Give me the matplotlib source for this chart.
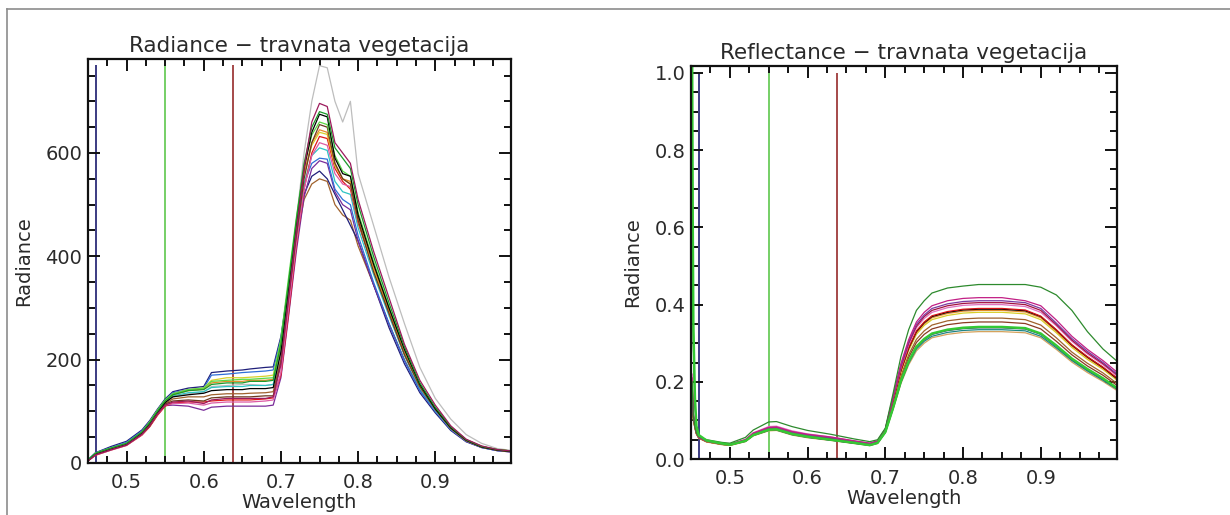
import matplotlib
matplotlib.use("Agg")
import matplotlib.pyplot as plt
from matplotlib.ticker import MultipleLocator, FixedLocator, FormatStrFormatter
from matplotlib.lines import Line2D

# valne duljine (um)
W_RAD = [0.45, 0.46, 0.47, 0.48, 0.50, 0.52, 0.53, 0.54, 0.55, 0.56, 0.58, 0.60,
         0.61, 0.63, 0.65, 0.66, 0.68, 0.69, 0.70, 0.71, 0.72, 0.73, 0.74, 0.75,
         0.76, 0.77, 0.78, 0.79, 0.80, 0.82, 0.84, 0.86, 0.88, 0.90, 0.92, 0.94,
         0.96, 0.98, 1.00]

W_REF = [0.4515, 0.4522, 0.453, 0.455, 0.457, 0.46, 0.47, 0.49, 0.50, 0.52, 0.53,
         0.55, 0.56, 0.58, 0.60, 0.63, 0.66, 0.68, 0.69, 0.70, 0.71, 0.72, 0.73,
         0.74, 0.75, 0.76, 0.78, 0.80, 0.82, 0.85, 0.88, 0.90, 0.92, 0.94, 0.96,
         0.98, 1.00]

# radiance spektri
rad_gray = [5, 17, 22, 28, 38, 60, 78, 100, 118, 128, 134, 138, 148, 150, 152, 152, 150, 152,
            200, 330, 470, 600, 700, 769, 765, 700, 660, 700,
            560, 460, 360, 270, 185, 125, 85, 55, 38, 28, 24]
rad_maroon = [4, 16, 21, 26, 35, 56, 73, 95, 112, 118, 120, 115, 122, 125, 125, 125, 125, 128,
              190, 320, 450, 570, 660, 696, 690, 620, 600, 580,
              510, 410, 320, 230, 160, 112, 72, 46, 33, 26, 23]
rad_green = [6, 19, 24, 29, 38, 60, 78, 100, 120, 132, 140, 142, 152, 155, 155, 158, 158, 160,
             230, 350, 470, 580, 650, 680, 675, 610, 590, 570,
             500, 400, 310, 225, 155, 108, 70, 45, 32, 26, 23]
rad_black = [5, 18, 22, 27, 36, 58, 76, 98, 117, 128, 132, 135, 140, 142, 142, 144, 144, 146,
             215, 340, 460, 570, 640, 675, 670, 590, 560, 555,
             480, 385, 300, 220, 152, 105, 68, 44, 31, 25, 22]
rad_olive = [4, 17, 21, 26, 35, 56, 72, 95, 114, 120, 122, 120, 126, 128, 128, 128, 130, 130,
             195, 320, 440, 550, 620, 655, 650, 580, 550, 540,
             470, 370, 290, 210, 148, 104, 68, 44, 31, 25, 22]
rad_orange = [5, 18, 23, 28, 37, 59, 77, 100, 120, 132, 140, 143, 155, 158, 158, 160, 160, 162,
              225, 345, 460, 560, 620, 645, 640, 580, 550, 545,
              475, 380, 295, 215, 150, 106, 70, 45, 32, 26, 23]
rad_red = [4, 15, 20, 25, 34, 54, 70, 92, 110, 116, 118, 118, 120, 122, 122, 122, 124, 126,
           170, 290, 420, 530, 600, 632, 628, 570, 545, 530,
           465, 375, 290, 212, 148, 104, 67, 43, 31, 25, 22]
rad_cyan = [6, 19, 23, 28, 37, 58, 76, 99, 118, 130, 136, 138, 146, 148, 148, 150, 150, 152,
            220, 335, 440, 540, 595, 610, 605, 545, 525, 520,
            455, 365, 285, 208, 145, 102, 66, 43, 31, 25, 22]
rad_blue = [6, 20, 25, 30, 40, 62, 80, 102, 122, 136, 142, 145, 170, 172, 175, 176, 178, 180,
            240, 345, 450, 540, 580, 590, 588, 530, 510, 500,
            440, 350, 270, 198, 140, 100, 65, 42, 30, 24, 22]
rad_purple = [4, 16, 21, 26, 35, 55, 71, 93, 111, 112, 110, 102, 108, 110, 110, 110, 110, 112,
              165, 285, 410, 515, 570, 585, 580, 525, 500, 490,
              430, 345, 268, 198, 140, 100, 65, 42, 30, 24, 21]
rad_navy = [6, 20, 26, 32, 42, 64, 82, 104, 124, 138, 145, 148, 175, 178, 180, 182, 185, 186,
            245, 345, 440, 520, 555, 565, 550, 520, 490, 460,
            430, 345, 262, 192, 136, 97, 63, 41, 30, 24, 21]
rad_brown = [5, 17, 22, 27, 36, 57, 74, 96, 115, 124, 128, 128, 132, 134, 134, 135, 136, 138,
             200, 320, 430, 510, 540, 550, 545, 500, 480, 470,
             420, 345, 270, 200, 142, 102, 66, 43, 31, 25, 22]
rad_yellow = [5, 19, 24, 29, 38, 60, 79, 101, 121, 134, 142, 145, 160, 165, 165, 166, 168, 170,
              235, 350, 465, 560, 615, 640, 636, 575, 550, 540,
              470, 375, 292, 212, 148, 105, 68, 44, 31, 25, 22]
rad_lime = [6, 19, 24, 29, 38, 60, 79, 102, 122, 134, 142, 145, 158, 160, 162, 162, 164, 165,
            240, 360, 475, 575, 635, 660, 655, 595, 565, 555,
            485, 390, 302, 220, 152, 106, 69, 45, 32, 26, 23]
rad_pink = [4, 16, 20, 25, 34, 55, 72, 94, 112, 115, 116, 112, 116, 118, 118, 118, 120, 122,
            175, 300, 425, 530, 595, 620, 615, 560, 540, 535,
            470, 380, 295, 215, 150, 106, 69, 45, 32, 26, 23]

# reflectance spektri
ref_dkgreen = [0.20, 0.15, 0.11, 0.085, 0.068, 0.058, 0.05, 0.043, 0.041, 0.056, 0.075, 0.096, 0.097,
               0.084, 0.074, 0.064, 0.052, 0.045, 0.05, 0.08,
               0.17, 0.265, 0.335, 0.385, 0.41, 0.43, 0.443, 0.448, 0.452, 0.452, 0.452, 0.445,
               0.425, 0.385, 0.33, 0.285, 0.25]
ref_magenta = [0.21, 0.16, 0.12, 0.09, 0.07, 0.058, 0.047, 0.040, 0.038, 0.050, 0.067, 0.082, 0.083,
               0.071, 0.064, 0.057, 0.047, 0.041, 0.047, 0.078,
               0.163, 0.247, 0.309, 0.355, 0.38, 0.397, 0.41, 0.416, 0.418, 0.418, 0.41, 0.397,
               0.36, 0.318, 0.284, 0.255, 0.222]
ref_purple = [0.19, 0.14, 0.11, 0.085, 0.068, 0.056, 0.046, 0.039, 0.037, 0.049, 0.065, 0.080, 0.081,
              0.069, 0.062, 0.055, 0.046, 0.040, 0.046, 0.077,
              0.16, 0.242, 0.303, 0.349, 0.373, 0.39, 0.402, 0.408, 0.41, 0.41, 0.405, 0.39,
              0.352, 0.312, 0.279, 0.25, 0.217]
ref_maroon = [0.20, 0.15, 0.115, 0.088, 0.069, 0.057, 0.047, 0.040, 0.038, 0.049, 0.066, 0.081, 0.082,
              0.070, 0.062, 0.054, 0.045, 0.039, 0.045, 0.076,
              0.158, 0.239, 0.30, 0.344, 0.369, 0.385, 0.397, 0.403, 0.405, 0.405, 0.40, 0.385,
              0.348, 0.308, 0.275, 0.247, 0.215]
ref_pink = [0.22, 0.16, 0.12, 0.09, 0.07, 0.058, 0.048, 0.041, 0.039, 0.051, 0.068, 0.084, 0.085,
            0.073, 0.065, 0.057, 0.047, 0.041, 0.047, 0.078,
            0.156, 0.236, 0.296, 0.34, 0.364, 0.38, 0.392, 0.398, 0.40, 0.40, 0.395, 0.38,
            0.345, 0.305, 0.272, 0.244, 0.212]
ref_red = [0.20, 0.15, 0.11, 0.086, 0.068, 0.056, 0.046, 0.039, 0.037, 0.048, 0.064, 0.078, 0.079,
           0.067, 0.060, 0.052, 0.043, 0.038, 0.044, 0.076,
           0.152, 0.23, 0.289, 0.332, 0.355, 0.371, 0.382, 0.388, 0.39, 0.39, 0.386, 0.37,
           0.335, 0.296, 0.265, 0.238, 0.207]
ref_black = [0.87, 0.55, 0.30, 0.14, 0.08, 0.06, 0.047, 0.040, 0.038, 0.048, 0.064, 0.077, 0.078,
             0.066, 0.059, 0.051, 0.043, 0.037, 0.044, 0.075,
             0.151, 0.229, 0.287, 0.33, 0.353, 0.369, 0.38, 0.386, 0.388, 0.388, 0.384, 0.369,
             0.334, 0.295, 0.264, 0.237, 0.205]
ref_orange = [0.19, 0.14, 0.105, 0.082, 0.066, 0.055, 0.045, 0.038, 0.036, 0.047, 0.062, 0.075, 0.076,
              0.064, 0.057, 0.050, 0.042, 0.036, 0.043, 0.073,
              0.15, 0.227, 0.285, 0.327, 0.35, 0.366, 0.377, 0.383, 0.385, 0.385, 0.381, 0.366,
              0.331, 0.293, 0.262, 0.235, 0.204]
ref_yellow = [0.20, 0.15, 0.11, 0.085, 0.067, 0.056, 0.046, 0.039, 0.037, 0.048, 0.063, 0.077, 0.078,
              0.066, 0.059, 0.051, 0.043, 0.037, 0.044, 0.075,
              0.148, 0.224, 0.281, 0.323, 0.346, 0.361, 0.372, 0.378, 0.38, 0.38, 0.376, 0.361,
              0.327, 0.289, 0.258, 0.232, 0.201]
ref_brown = [0.18, 0.14, 0.105, 0.08, 0.065, 0.054, 0.045, 0.038, 0.036, 0.046, 0.061, 0.075, 0.076,
             0.064, 0.057, 0.050, 0.042, 0.036, 0.043, 0.072,
             0.142, 0.215, 0.27, 0.31, 0.332, 0.347, 0.358, 0.363, 0.365, 0.365, 0.361, 0.347,
             0.314, 0.277, 0.248, 0.223, 0.193]
ref_olive = [0.19, 0.14, 0.105, 0.082, 0.066, 0.055, 0.045, 0.038, 0.036, 0.047, 0.062, 0.076, 0.077,
             0.065, 0.058, 0.050, 0.042, 0.037, 0.043, 0.073,
             0.138, 0.209, 0.263, 0.302, 0.323, 0.337, 0.348, 0.353, 0.355, 0.355, 0.351, 0.337,
             0.305, 0.27, 0.241, 0.217, 0.188]
ref_ltgreen = [1.02, 0.62, 0.35, 0.16, 0.085, 0.062, 0.048, 0.040, 0.037, 0.047, 0.062, 0.076, 0.077,
               0.065, 0.058, 0.050, 0.042, 0.036, 0.042, 0.070,
               0.133, 0.202, 0.253, 0.291, 0.311, 0.325, 0.335, 0.34, 0.342, 0.342, 0.339, 0.325,
               0.294, 0.26, 0.233, 0.209, 0.181]
ref_navy = [0.20, 0.15, 0.11, 0.085, 0.067, 0.056, 0.046, 0.039, 0.037, 0.047, 0.062, 0.075, 0.076,
            0.064, 0.057, 0.049, 0.041, 0.036, 0.042, 0.07,
            0.133, 0.201, 0.252, 0.289, 0.309, 0.323, 0.333, 0.338, 0.34, 0.34, 0.337, 0.323,
            0.292, 0.258, 0.231, 0.207, 0.18]
ref_teal = [0.19, 0.14, 0.105, 0.082, 0.066, 0.055, 0.045, 0.038, 0.036, 0.046, 0.061, 0.074, 0.075,
            0.063, 0.056, 0.049, 0.041, 0.035, 0.041, 0.069,
            0.131, 0.198, 0.248, 0.285, 0.305, 0.318, 0.328, 0.333, 0.335, 0.335, 0.332, 0.318,
            0.288, 0.255, 0.228, 0.204, 0.178]
ref_tan = [0.18, 0.13, 0.10, 0.08, 0.064, 0.054, 0.044, 0.037, 0.035, 0.045, 0.060, 0.073, 0.074,
           0.062, 0.055, 0.048, 0.040, 0.035, 0.040, 0.068,
           0.129, 0.195, 0.244, 0.28, 0.30, 0.314, 0.323, 0.328, 0.33, 0.33, 0.327, 0.314,
           0.284, 0.251, 0.224, 0.201, 0.175]

# oznake kanala (plavi, zeleni, crveni)
BAND_X = [0.46, 0.55, 0.638]
BAND_COLORS = ["#2c2c78", "#6acb5a", "#9e3a3a"]
BAND_TOP = [770, 1.0]

rad_series = [
    (rad_gray, "#bdbdbd"), (rad_brown, "#a0622d"), (rad_navy, "#1f1f7a"),
    (rad_purple, "#7a2d9a"), (rad_blue, "#2f6fd8"), (rad_cyan, "#2cc4c4"),
    (rad_red, "#e01818"), (rad_pink, "#dd5aa5"), (rad_yellow, "#d8cf2a"),
    (rad_orange, "#e58b2a"), (rad_olive, "#6b3a1f"), (rad_lime, "#5ada46"),
    (rad_black, "#000000"), (rad_green, "#1a9a2a"), (rad_maroon, "#9c1a5c"),
]

ref_series = [
    (ref_tan, "#d5a35e"), (ref_teal, "#1f8585"), (ref_navy, "#1f1f7a"),
    (ref_olive, "#8a3a22"), (ref_brown, "#a0622d"),
    (ref_yellow, "#d8cf2a"), (ref_orange, "#e58b2a"), (ref_black, "#000000"),
    (ref_red, "#d81414"), (ref_pink, "#e070c0"), (ref_maroon, "#a3123f"),
    (ref_purple, "#7a3aa0"), (ref_magenta, "#c21f85"), (ref_dkgreen, "#2d8a2d"),
    (ref_ltgreen, "#34c834"),
]

TEXT_COLOR = "#2a2a2a"


def style_axes(ax, ylim, ymajor, yminor, yfmt):
    ax.set_xlim(0.45, 0.998)
    ax.set_ylim(*ylim)
    ax.xaxis.set_major_locator(FixedLocator([0.5, 0.6, 0.7, 0.8, 0.9, 1.0]))
    ax.xaxis.set_minor_locator(MultipleLocator(0.025))
    ax.xaxis.set_major_formatter(FormatStrFormatter("%.1f"))
    ax.yaxis.set_major_locator(MultipleLocator(ymajor))
    ax.yaxis.set_minor_locator(MultipleLocator(yminor))
    ax.yaxis.set_major_formatter(FormatStrFormatter(yfmt))
    ax.tick_params(which="both", direction="in", top=True, right=True,
                   width=1.4, color="#111111", labelcolor=TEXT_COLOR, labelsize=14)
    ax.tick_params(which="major", length=8.5)
    ax.tick_params(which="minor", length=5)
    ax.tick_params(axis="x", pad=7)
    ax.tick_params(axis="y", pad=4)
    for sp in ax.spines.values():
        sp.set_linewidth(1.6)
        sp.set_color("#111111")
    ax.set_xlabel("Wavelength", fontsize=14, color=TEXT_COLOR, labelpad=1)
    ax.set_ylabel("Radiance", fontsize=14, color=TEXT_COLOR, labelpad=9)


fig = plt.figure(figsize=(12.3, 5.15), dpi=100)

ax1 = fig.add_axes([0.0715, 0.101, 0.3439, 0.7845])
ax2 = fig.add_axes([0.5618, 0.1087, 0.3463, 0.7631])

for vals, col in rad_series:
    ax1.plot(W_RAD, vals, color=col, lw=0.9)
for vals, col in ref_series:
    lw = 1.8 if vals is ref_ltgreen else 0.9
    ax2.plot(W_REF, vals, color=col, lw=lw)

for ax, top in zip([ax1, ax2], BAND_TOP):
    for x, col in zip(BAND_X, BAND_COLORS):
        ax.vlines(x, 0, top, color=col, lw=1.3, zorder=1)

style_axes(ax1, (0, 782), 200, 50, "%d")
style_axes(ax2, (0, 1.018), 0.2, 0.05, "%.1f")

ax1.set_title("Radiance \u2212 travnata vegetacija", fontsize=15.5, color=TEXT_COLOR, pad=5)
ax2.set_title("Reflectance \u2212 travnata vegetacija", fontsize=15.5, color=TEXT_COLOR, pad=5)

# sivi okvir oko slike
fig.add_artist(Line2D([7 / 1230, 1.0], [1 - 9 / 515, 1 - 9 / 515], color="#8c8c8c", lw=1.2))
fig.add_artist(Line2D([7 / 1230, 7 / 1230], [0.0, 1 - 9 / 515], color="#8c8c8c", lw=1.2))

fig.savefig("out.png", dpi=100)
